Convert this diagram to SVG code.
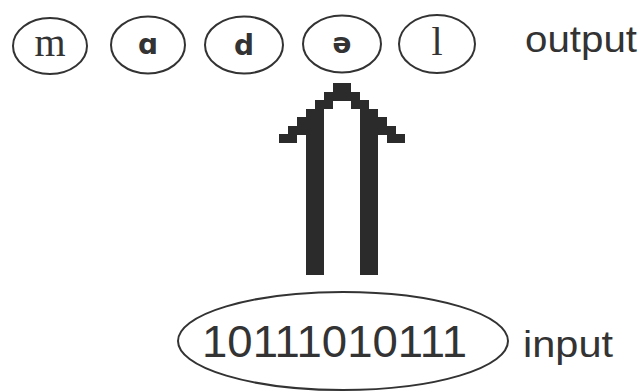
<svg xmlns="http://www.w3.org/2000/svg" width="644" height="392" viewBox="0 0 644 392">
<style>
.node ellipse{fill:none;stroke:#333;stroke-width:2}
.ser{font-family:"Liberation Serif","DejaVu Serif",serif;font-size:40px;fill:#333;text-anchor:middle}
.sans{font-family:"DejaVu Sans","Liberation Sans",sans-serif;font-size:28px;font-weight:bold;fill:#333;text-anchor:middle}
.lbl{font-family:"Liberation Sans","DejaVu Sans",sans-serif;font-size:36px;fill:#333}
.arrow rect{fill:#2b2b2b}
</style>
<rect width="644" height="392" fill="#fff"/>
<g id="node-m" class="node"><ellipse cx="50" cy="46" rx="37" ry="28"/><text class="ser" x="50" y="56">m</text></g>
<g id="node-a" class="node"><ellipse cx="148" cy="45" rx="37" ry="28.5"/><text class="sans" x="148" y="54">ɑ</text></g>
<g id="node-d" class="node"><ellipse cx="244" cy="45" rx="39" ry="28.5"/><text class="sans" x="244" y="55">d</text></g>
<g id="node-schwa" class="node"><ellipse cx="342" cy="44" rx="39" ry="28.5"/><text class="sans" x="342" y="53">ə</text></g>
<g id="node-l" class="node"><ellipse cx="437" cy="44" rx="38" ry="29"/><text class="ser" x="437" y="55">l</text></g>
<g id="label-output"><text class="lbl" x="525" y="52" textLength="112" lengthAdjust="spacingAndGlyphs">output</text></g>
<g id="node-input" class="node"><ellipse cx="343" cy="341" rx="165" ry="49"/><text class="lbl" x="202" y="357" style="font-size:44px" textLength="265" lengthAdjust="spacingAndGlyphs">10111010111</text></g>
<g id="label-input"><text class="lbl" x="523" y="357" textLength="90" lengthAdjust="spacingAndGlyphs">input</text></g>
<g id="connectors" class="arrow" shape-rendering="crispEdges">
<rect x="333" y="83" width="18" height="9"/>
<rect x="324" y="91.5" width="36" height="9"/>
<rect x="315" y="100" width="18" height="9"/>
<rect x="351" y="100" width="18" height="9"/>
<rect x="306" y="108.5" width="18" height="166.5"/>
<rect x="360" y="108.5" width="18" height="166.5"/>
<rect x="297" y="117" width="27" height="9"/>
<rect x="360" y="117" width="27" height="9"/>
<rect x="288" y="125.5" width="36" height="9"/>
<rect x="360" y="125.5" width="36" height="9"/>
<rect x="279" y="134" width="18" height="8.5"/>
<rect x="387" y="134" width="18" height="8.5"/>
</g>
</svg>
